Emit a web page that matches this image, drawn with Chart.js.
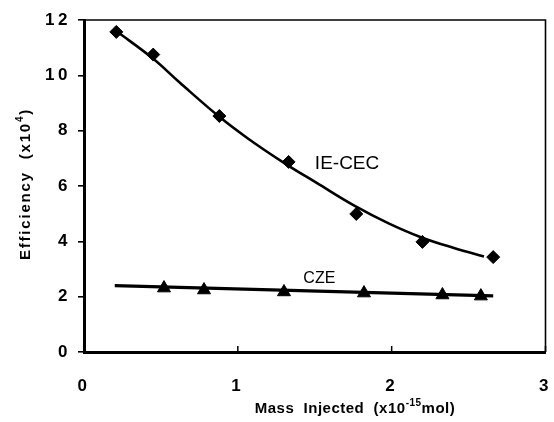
<!DOCTYPE html>
<html>
<head>
<meta charset="utf-8">
<script src="https://cdn.jsdelivr.net/npm/chart.js@4/dist/chart.umd.min.js"></script>
<style>
  html, body { margin: 0; padding: 0; background: #fff; overflow: hidden; }
  #wrap { width: 554px; height: 422px; position: relative; }
  canvas { display: block; }
</style>
</head>
<body>
<div id="wrap"><canvas id="c" width="554" height="422"></canvas></div>
<script>
// ---- Data ----
const ieCecMass = [0.21, 0.45, 0.88, 1.33, 1.77, 2.20, 2.66];
const ieCecEff  = [11.57, 10.75, 8.53, 6.87, 4.99, 3.98, 3.43];

const czeMass = [0.52, 0.78, 1.30, 1.82, 2.33, 2.58];
const czeEff  = [2.31, 2.24, 2.17, 2.13, 2.06, 2.02];

// fitted trend curves
const ieCecFitMass = [0.21, 0.45, 0.62, 0.88, 1.07, 1.31, 1.51, 1.76, 1.98, 2.19, 2.41, 2.60];
const ieCecFitEff  = [11.60, 10.60, 9.75, 8.50, 7.70, 6.80, 6.12, 5.28, 4.65, 4.15, 3.75, 3.45];

const czeFitMass = [0.20, 2.66];
const czeFitEff  = [2.40, 2.03];

const xTicks = [0, 1, 2, 3];
const yTicks = [0, 2, 4, 6, 8, 10, 12];

const seriesNames = ['IE-CEC', 'CZE'];

const toXY = (xs, ys) => xs.map((x, i) => ({ x: x, y: ys[i] }));

const FONT = '"Liberation Sans", Arial, Helvetica, sans-serif';
const AREA = { left: 84, top: 20, right: 548, bottom: 352 };

const spacing = {
  id: 'spacing',
  beforeDraw(chart) { chart.ctx.letterSpacing = '3.5px'; }
};

// plot decorations: frame, inner x ticks, axis titles, series labels
const decor = {
  id: 'decor',
  afterDraw(chart) {
    const ctx = chart.ctx;
    const a = chart.chartArea;
    const xs = chart.scales.x, ys = chart.scales.y;
    ctx.save();
    ctx.letterSpacing = '0px';
    // top & right frame
    ctx.strokeStyle = '#000';
    ctx.lineWidth = 1.6;
    ctx.beginPath();
    ctx.moveTo(a.left, a.top); ctx.lineTo(a.right, a.top); ctx.lineTo(a.right, a.bottom);
    ctx.stroke();
    // inner x ticks
    ctx.lineWidth = 1.5;
    xTicks.forEach(v => {
      const px = xs.getPixelForValue(v);
      ctx.beginPath(); ctx.moveTo(px, a.bottom); ctx.lineTo(px, a.bottom - 6); ctx.stroke();
    });
    ctx.fillStyle = '#000';
    // series labels
    ctx.textAlign = 'center';
    ctx.textBaseline = 'middle';
    ctx.font = '19px ' + FONT;
    ctx.fillText(seriesNames[0], xs.getPixelForValue(1.71), ys.getPixelForValue(6.8));
    ctx.font = '16px ' + FONT;
    ctx.fillText(seriesNames[1], xs.getPixelForValue(1.53), ys.getPixelForValue(2.65));

    // helper for text with superscript
    function drawParts(parts, cx, cy, ls) {
      ctx.letterSpacing = ls;
      let w = 0;
      parts.forEach(p => { ctx.font = p.f; w += ctx.measureText(p.t).width; });
      let x = cx - w / 2;
      ctx.textAlign = 'left';
      ctx.textBaseline = 'alphabetic';
      parts.forEach(p => {
        ctx.font = p.f;
        ctx.fillText(p.t, x, cy + (p.dy || 0));
        x += ctx.measureText(p.t).width;
      });
    }
    const main = 'bold 15px ' + FONT;
    const sup = 'bold 10px ' + FONT;
    // x title
    drawParts([
      { t: 'Mass  Injected  (x10', f: main },
      { t: '-15', f: sup, dy: -7 },
      { t: 'mol)', f: main }
    ], 355, 413, '0.5px');
    // y title
    ctx.save();
    ctx.translate(30, 184);
    ctx.rotate(-Math.PI / 2);
    drawParts([
      { t: 'Efficiency  (x10', f: main },
      { t: '4', f: sup, dy: -7 },
      { t: ')', f: main }
    ], 0, 0, '1.8px');
    ctx.restore();
    ctx.restore();
  }
};

const chart = new Chart(document.getElementById('c'), {
  type: 'scatter',
  data: {
    datasets: [
      {
        label: seriesNames[0] + ' fit',
        data: toXY(ieCecFitMass, ieCecFitEff),
        showLine: true, borderColor: '#000', borderWidth: 2.6,
        pointRadius: 0, tension: 0.4
      },
      {
        label: seriesNames[1] + ' fit',
        data: toXY(czeFitMass, czeFitEff),
        showLine: true, borderColor: '#000', borderWidth: 3.2,
        pointRadius: 0
      },
      {
        label: seriesNames[0],
        data: toXY(ieCecMass, ieCecEff),
        pointStyle: 'rectRot', pointRadius: 6.5,
        backgroundColor: '#000', borderColor: '#000', borderWidth: 1
      },
      {
        label: seriesNames[1],
        data: toXY(czeMass, czeEff),
        pointStyle: 'triangle', pointRadius: 7.5,
        backgroundColor: '#000', borderColor: '#000', borderWidth: 1
      }
    ]
  },
  options: {
    responsive: false,
    animation: false,
    layout: { padding: { left: 0, right: 6, top: 20, bottom: 0 } },
    plugins: { legend: { display: false }, tooltip: { enabled: false } },
    scales: {
      x: {
        type: 'linear', min: 0, max: 3,
        afterBuildTicks: s => { s.ticks = xTicks.map(v => ({ value: v })); },
        afterFit: s => { s.height = 70; s.paddingLeft = 0; s.paddingRight = 0; },
        grid: { display: false },
        border: { display: true, color: '#000', width: 3 },
        ticks: { color: '#000', padding: 16, font: { family: FONT, size: 17, weight: 'bold' } }
      },
      y: {
        type: 'linear', min: 0, max: 12,
        afterBuildTicks: s => { s.ticks = yTicks.map(v => ({ value: v })); },
        afterFit: s => { s.width = 84; s.paddingTop = 0; s.paddingBottom = 0; },
        grid: { drawOnChartArea: false, drawTicks: true, tickLength: 6, color: '#000', lineWidth: 1.6 },
        border: { display: true, color: '#000', width: 3 },
        ticks: { color: '#000', padding: 7, font: { family: FONT, size: 17, weight: 'bold' } }
      }
    }
  },
  plugins: [spacing, decor]
});

// align the plot area with the reference frame
(function fixArea() {
  const a = chart.chartArea;
  const p = chart.options.layout.padding;
  const dr = a.right - AREA.right, dt = AREA.top - a.top;
  if (Math.abs(dr) > 0.5 || Math.abs(dt) > 0.5) {
    p.right += dr;
    p.top += dt;
    chart.update();
  }
})();
</script>
</body>
</html>
